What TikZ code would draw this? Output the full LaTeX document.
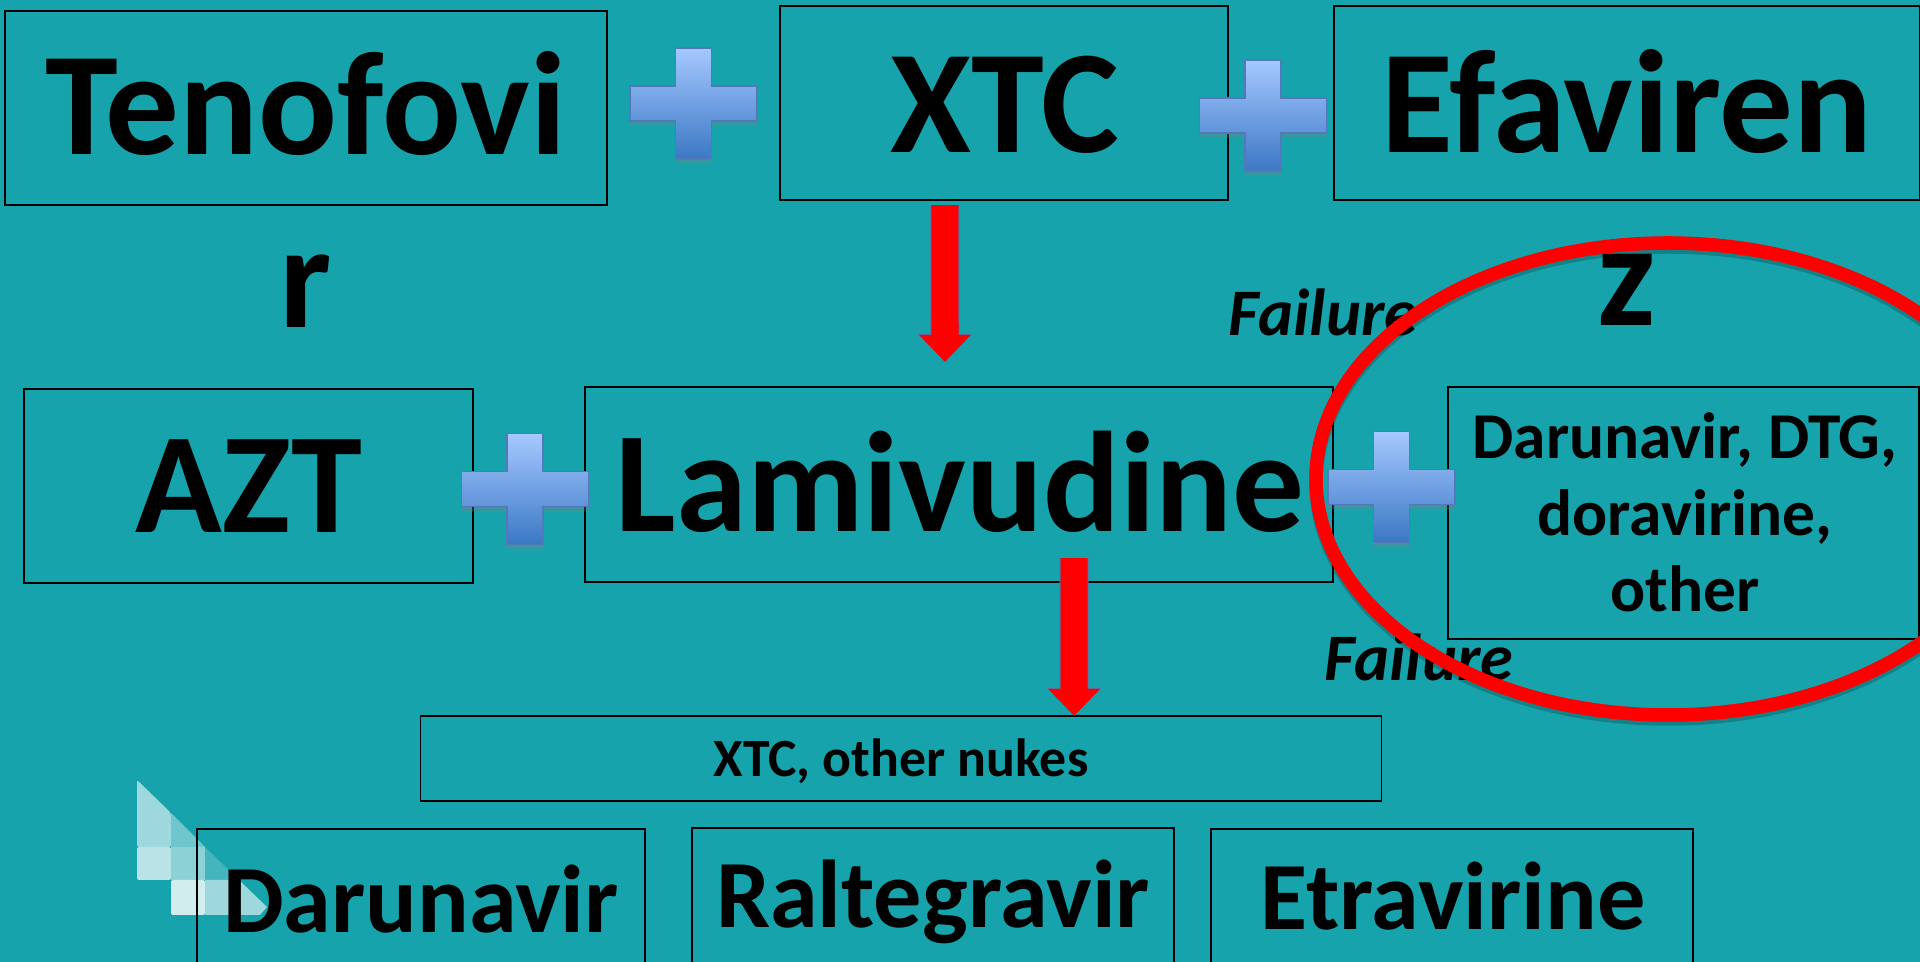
\documentclass[tikz,border=0pt]{standalone}
\usepackage{fontspec}
\setmainfont{Carlito}
\usetikzlibrary{arrows.meta,shadows}
\definecolor{slidebg}{HTML}{17A3AC}
\definecolor{plustop}{HTML}{A6C8FF}
\definecolor{plusbottom}{HTML}{3B78C4}
\definecolor{plusedge}{HTML}{5578BC}
\definecolor{arrowedge}{HTML}{5F6FA8}
\tikzset{
    drugbox/.style={draw,line width=0.015cm,inner sep=0pt,outer sep=0pt},
    bigdrug/.style={inner sep=0pt,anchor=base,align=center,font=\bfseries\fontsize{40.7}{49.2}\selectfont},
    topdrug/.style={bigdrug,font=\bfseries\fontsize{41.8}{49.2}\selectfont},
    middrug/.style={inner sep=0pt,anchor=base,align=center,font=\bfseries\fontsize{27.4}{34}\selectfont},
    smalldrug/.style={inner sep=0pt,anchor=base,align=center,font=\bfseries\fontsize{18.6}{21.8}\selectfont},
    failtext/.style={inner sep=0pt,anchor=base west,font=\bfseries\itshape\fontsize{18.9}{24}\selectfont},
    plussign/.style={draw=plusedge,line width=0.012cm,top color=plustop,bottom color=plusbottom,
        drop shadow={shadow xshift=0cm,shadow yshift=-0.05cm,opacity=0.3}},
    redarrow/.style={draw=red,line width=0.27cm,-{Triangle[length=0.27cm,width=0.50cm]},
        preaction={draw=arrowedge,line width=0.29cm,-{Triangle[length=0.28cm,width=0.53cm]}}},
    redring/.style={draw=red,line width=0.135cm},
    wm/.style={draw=none,rounded corners=0.02cm}
}
\begin{document}
\begin{tikzpicture}[x=0.01cm,y=-0.01cm]
    \useasboundingbox (0,0) rectangle (1920,962);
    \clip (0,0) rectangle (1920,962);
    \fill[slidebg] (0,0) rectangle (1920,962);

    \fill[wm,fill=white!58!slidebg] (137,780) -- (171,813) -- (171,847) -- (137,847) -- cycle;
    \fill[fill=white!38!slidebg] (171,813) -- (205,847) -- (171,847) -- cycle;
    \fill[wm,fill=white!70!slidebg] (137,847) -- (171,847) -- (171,880) -- (137,880) -- cycle;
    \fill[fill=white!50!slidebg] (171,847) -- (205,847) -- (205,880) -- (171,880) -- cycle;
    \fill[fill=white!20!slidebg] (205,847) -- (239,880) -- (205,880) -- cycle;
    \fill[wm,fill=white!80!slidebg] (171,880) -- (205,880) -- (205,915) -- (171,915) -- cycle;
    \fill[fill=white!58!slidebg] (205,880) -- (239,880) -- (267,907) -- (260,915) -- (205,915) -- cycle;

    \node[drugbox,minimum width=6.02cm,minimum height=1.94cm] (tenofovir) at (306,108) {};
    \node[drugbox,minimum width=4.48cm,minimum height=1.94cm] (xtc) at (1004,103) {};
    \node[drugbox,minimum width=5.86cm,minimum height=1.94cm] (efavirenz) at (1627,103) {};
    \node[drugbox,minimum width=4.49cm,minimum height=1.94cm] (azt) at (248.5,486) {};
    \node[drugbox,minimum width=7.48cm,minimum height=1.95cm] (lamivudine) at (959,484.5) {};
    \node[drugbox,minimum width=4.71cm,minimum height=2.52cm] (others) at (1683.5,513) {};
    \node[drugbox,minimum width=9.60cm,minimum height=0.85cm] (nukes) at (901,758.5) {};
    \node[drugbox,minimum width=4.48cm,minimum height=1.94cm] (darunavir) at (421,926) {};
    \node[drugbox,minimum width=4.82cm,minimum height=1.94cm] (raltegravir) at (933,925) {};
    \node[drugbox,minimum width=4.82cm,minimum height=1.94cm] (etravirine) at (1452,926) {};

    \node[topdrug] (tenofovirtext) at (306,328) {Tenofovi\\r};
    \node[topdrug] (xtctext) at (1005,153) {XTC};
    \node[topdrug] (efavirenztext) at (1627,326) {Efaviren\\z};
    \node[bigdrug] (azttext) at (249,533) {AZT};
    \node[bigdrug] (lamivudinetext) at (960,532) {Lamivudine};
    \node[smalldrug] (otherstext) at (1685,612) {Darunavir, DTG,\\doravirine,\\other};
    \node[smalldrug,font=\bfseries\fontsize{15.3}{18}\selectfont] (nukestext) at (901,777) {XTC, other nukes};
    \node[middrug] (daruntext) at (421,933) {Darunavir};
    \node[middrug] (raltegtext) at (933,928) {Raltegravir};
    \node[middrug] (etravtext) at (1453,930) {Etravirine};

    \node[failtext] (failone) at (1228,336) {Failure};
    \node[failtext] (failtwo) at (1324,681) {Failure};

    \draw[redarrow] ([xshift=-0.59cm,yshift=-0.05cm]xtc.south) -- ([xshift=-0.14cm,yshift=0.25cm]lamivudine.north);
    \draw[redarrow] ([xshift=1.15cm,yshift=0.24cm]lamivudine.south) -- ([xshift=1.73cm]nukes.north);

    \draw[redring,draw=black,opacity=0.2,transform canvas={yshift=-0.04cm}] (1668,479) ellipse [x radius=352,y radius=236];
    \draw[redring] (1668,479) ellipse [x radius=352,y radius=236];

    \foreach \px/\py in {693.5/103.5,1263/115.5,525/489,1391.5/487}
        \draw[plussign,shift={(\px,\py)}] (-18,-55.5) -- (18,-55.5) -- (18,-17.5) -- (63.5,-17.5) -- (63.5,17.5) -- (18,17.5)
            -- (18,55.5) -- (-18,55.5) -- (-18,17.5) -- (-63.5,17.5) -- (-63.5,-17.5) -- (-18,-17.5) -- cycle;
\end{tikzpicture}
\end{document}
